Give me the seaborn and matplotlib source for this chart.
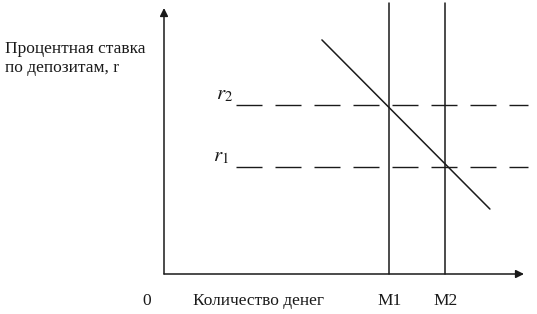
import matplotlib
matplotlib.use("Agg")
import matplotlib.pyplot as plt
import seaborn as sns
import pandas as pd

# Data (arbitrary units of the diagram)
curve_x = [2.82, 5.82]
curve_y = [4.18, 1.16]
m_labels = ["M1", "M2"]
m_values = [4.02, 5.02]
r_labels = ["$r_2$", "$r_1$"]
r_values = [3.02, 1.91]
x_axis_label = "Количество денег"
y_axis_label = "Процентная ставка\nпо депозитам, r"

sns.set_theme(style="white")
plt.rcParams["font.family"] = ["Liberation Serif", "DejaVu Serif"]
plt.rcParams["mathtext.fontset"] = "stix"

u = 56.0
fig = plt.figure(figsize=(5.37, 3.14), dpi=100)
ax = fig.add_axes([0, 0, 1, 1])
ax.set_xlim(-164 / u, (537 - 164) / u)
ax.set_ylim(-(314 - 274) / u, 274 / u)
ax.axis("off")

ink = "#1a1a1a"
df = pd.DataFrame({"x": curve_x, "y": curve_y})
sns.lineplot(data=df, x="x", y="y", ax=ax, color=ink, lw=1.1)

top = (314 - 3) / u - (314 - 274) / u
for m in m_values:
    ax.plot([m, m], [0, top], color=ink, lw=1.1)

lw = 1.0
dash = (26 * 0.72 / lw, 13 * 0.72 / lw)
for r in r_values:
    ax.plot([(236 - 164) / u, (528 - 164) / u], [r, r], color=ink, lw=lw,
            linestyle=(0, dash))

# axes with arrows
ax.annotate("", xy=((524 - 164) / u, 0), xytext=(0, 0),
            arrowprops=dict(arrowstyle="-|>", color=ink, lw=1.1,
                            mutation_scale=12, shrinkA=0, shrinkB=0))
ax.annotate("", xy=(0, (274 - 8) / u), xytext=(0, 0),
            arrowprops=dict(arrowstyle="-|>", color=ink, lw=1.1,
                            mutation_scale=12, shrinkA=0, shrinkB=0))

fs = 12.5
ax.text(-159 / u, (274 - 72) / u, y_axis_label, fontsize=fs, ha="left",
        va="baseline", color=ink, linespacing=1.28)
ybot = -(305 - 274) / u
ax.text(-(164 - 147) / u, ybot, "0", fontsize=fs, ha="center", va="baseline", color=ink)
ax.text((193 - 164) / u, ybot, x_axis_label, fontsize=fs, ha="left", va="baseline", color=ink)
for lab, m in zip(m_labels, m_values):
    ax.text(m, ybot, lab, fontsize=fs, ha="center", va="baseline", color=ink)
for lab, r, dx in zip(r_labels, r_values, [233, 229]):
    ax.text((dx - 164) / u, r + 10 / u, lab, fontsize=15, ha="right",
            va="center", color=ink)

fig.savefig("out.png", dpi=100)
